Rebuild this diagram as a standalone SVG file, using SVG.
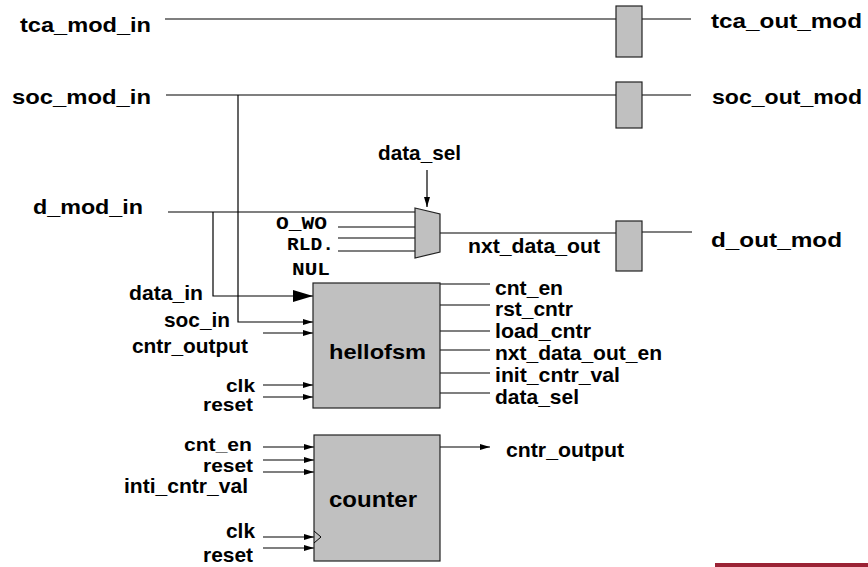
<svg xmlns="http://www.w3.org/2000/svg" width="868" height="567" viewBox="0 0 868 567">
<style>
.t{font-family:"Liberation Sans",Arial,sans-serif;font-weight:bold;font-size:21px;fill:#000}
.s{font-size:19px}
.m{font-family:"Liberation Mono","Courier New",monospace;font-weight:bold;font-size:19px;fill:#000}
.w{stroke:#000;stroke-width:1.2;fill:none}
.b{fill:#c0c0c0;stroke:#222;stroke-width:1.2}
</style>
<defs>
<marker id="a" viewBox="0 0 10 6" refX="10" refY="3" markerWidth="10" markerHeight="6" markerUnits="userSpaceOnUse" orient="auto"><path d="M0,0L10,3L0,6z" fill="#000"/></marker>
<marker id="A" viewBox="0 0 20 12" refX="20" refY="6" markerWidth="20" markerHeight="12" markerUnits="userSpaceOnUse" orient="auto"><path d="M0,0L20,6L0,12z" fill="#000"/></marker>
</defs>
<g id="connectors">
<path class="w" d="M165,19H616M642,19H691"/>
<path class="w" d="M166,95H616M642,95H691"/>
<path class="w" d="M238,95V322H313" marker-end="url(#a)"/>
<path class="w" d="M168,212H415"/>
<path class="w" d="M213,212V296H313" marker-end="url(#A)"/>
<path class="w" d="M338,227H415M338,238H415M338,251H415"/>
<path class="w" d="M427,170V207" marker-end="url(#a)"/>
<path class="w" d="M440,233H616M642,232H692"/>
<path class="w" d="M263,333H313" marker-end="url(#a)"/>
<path class="w" d="M263,385H313" marker-end="url(#a)"/>
<path class="w" d="M263,397H313" marker-end="url(#a)"/>
<path class="w" d="M440,284H490M440,305H490M440,331H490M440,350H490M440,373H490M440,393H490"/>
<path class="w" d="M263,447H314" marker-end="url(#a)"/>
<path class="w" d="M263,460H314" marker-end="url(#a)"/>
<path class="w" d="M263,472H314" marker-end="url(#a)"/>
<path class="w" d="M263,537H314" marker-end="url(#a)"/>
<path class="w" d="M263,548H314" marker-end="url(#a)"/>
<path class="w" d="M440,447H490" marker-end="url(#a)"/>
</g>
<g id="tca_reg"><rect class="b" x="616" y="6" width="26" height="51"/></g>
<g id="soc_reg"><rect class="b" x="616" y="82" width="26" height="46"/></g>
<g id="d_reg"><rect class="b" x="616" y="221" width="26" height="50"/></g>
<g id="mux"><polygon class="b" points="415,208 440,214 440,252 415,258"/></g>
<g id="hellofsm">
<rect class="b" x="313" y="283" width="127" height="125"/>
<text class="t" x="329" y="359" textLength="97" lengthAdjust="spacingAndGlyphs">hellofsm</text>
</g>
<g id="counter">
<rect class="b" x="314" y="435" width="126" height="126"/>
<path d="M314,531L321,537L314,543" fill="none" stroke="#000" stroke-width="1"/>
<text class="t" x="329" y="507" textLength="88" lengthAdjust="spacingAndGlyphs" style="font-size:22px">counter</text>
</g>
<g id="labels">
<text class="t" x="20" y="32" textLength="131" lengthAdjust="spacingAndGlyphs">tca_mod_in</text>
<text class="t" x="12" y="104" textLength="139" lengthAdjust="spacingAndGlyphs">soc_mod_in</text>
<text class="t" x="33" y="214" textLength="110" lengthAdjust="spacingAndGlyphs">d_mod_in</text>
<text class="t" x="711" y="28" textLength="151" lengthAdjust="spacingAndGlyphs">tca_out_mod</text>
<text class="t" x="712" y="104" textLength="150" lengthAdjust="spacingAndGlyphs">soc_out_mod</text>
<text class="t" x="711" y="247" textLength="131" lengthAdjust="spacingAndGlyphs">d_out_mod</text>
<text class="t" x="378" y="160" textLength="83" lengthAdjust="spacingAndGlyphs">data_sel</text>
<text class="m" x="276" y="229" textLength="51" lengthAdjust="spacingAndGlyphs">O_WO</text>
<text class="m" x="287" y="250" textLength="47" lengthAdjust="spacingAndGlyphs">RLD.</text>
<text class="m" x="292" y="275" textLength="38" lengthAdjust="spacingAndGlyphs">NUL</text>
<text class="t" x="468" y="253" textLength="132" lengthAdjust="spacingAndGlyphs">nxt_data_out</text>
<text class="t" x="129" y="300" textLength="74" lengthAdjust="spacingAndGlyphs">data_in</text>
<text class="t" x="164" y="327" textLength="66" lengthAdjust="spacingAndGlyphs">soc_in</text>
<text class="t" x="132" y="353" textLength="116" lengthAdjust="spacingAndGlyphs">cntr_output</text>
<text class="t s" x="226" y="392" textLength="29" lengthAdjust="spacingAndGlyphs">clk</text>
<text class="t s" x="203" y="411" textLength="50" lengthAdjust="spacingAndGlyphs">reset</text>
<text class="t" x="495" y="295" textLength="68" lengthAdjust="spacingAndGlyphs">cnt_en</text>
<text class="t" x="495" y="316" textLength="78" lengthAdjust="spacingAndGlyphs">rst_cntr</text>
<text class="t" x="495" y="338" textLength="96" lengthAdjust="spacingAndGlyphs">load_cntr</text>
<text class="t" x="495" y="360" textLength="167" lengthAdjust="spacingAndGlyphs">nxt_data_out_en</text>
<text class="t" x="495" y="382" textLength="125" lengthAdjust="spacingAndGlyphs">init_cntr_val</text>
<text class="t" x="495" y="404" textLength="84" lengthAdjust="spacingAndGlyphs">data_sel</text>
<text class="t s" x="184" y="451" textLength="68" lengthAdjust="spacingAndGlyphs">cnt_en</text>
<text class="t s" x="203" y="472" textLength="50" lengthAdjust="spacingAndGlyphs">reset</text>
<text class="t" x="124" y="493" textLength="124" lengthAdjust="spacingAndGlyphs">inti_cntr_val</text>
<text class="t" x="226" y="538" textLength="29" lengthAdjust="spacingAndGlyphs">clk</text>
<text class="t" x="203" y="562" textLength="50" lengthAdjust="spacingAndGlyphs">reset</text>
<text class="t" x="506" y="457" textLength="118" lengthAdjust="spacingAndGlyphs">cntr_output</text>
</g>
<rect x="715" y="563" width="153" height="4" fill="#9b2335"/>
</svg>
